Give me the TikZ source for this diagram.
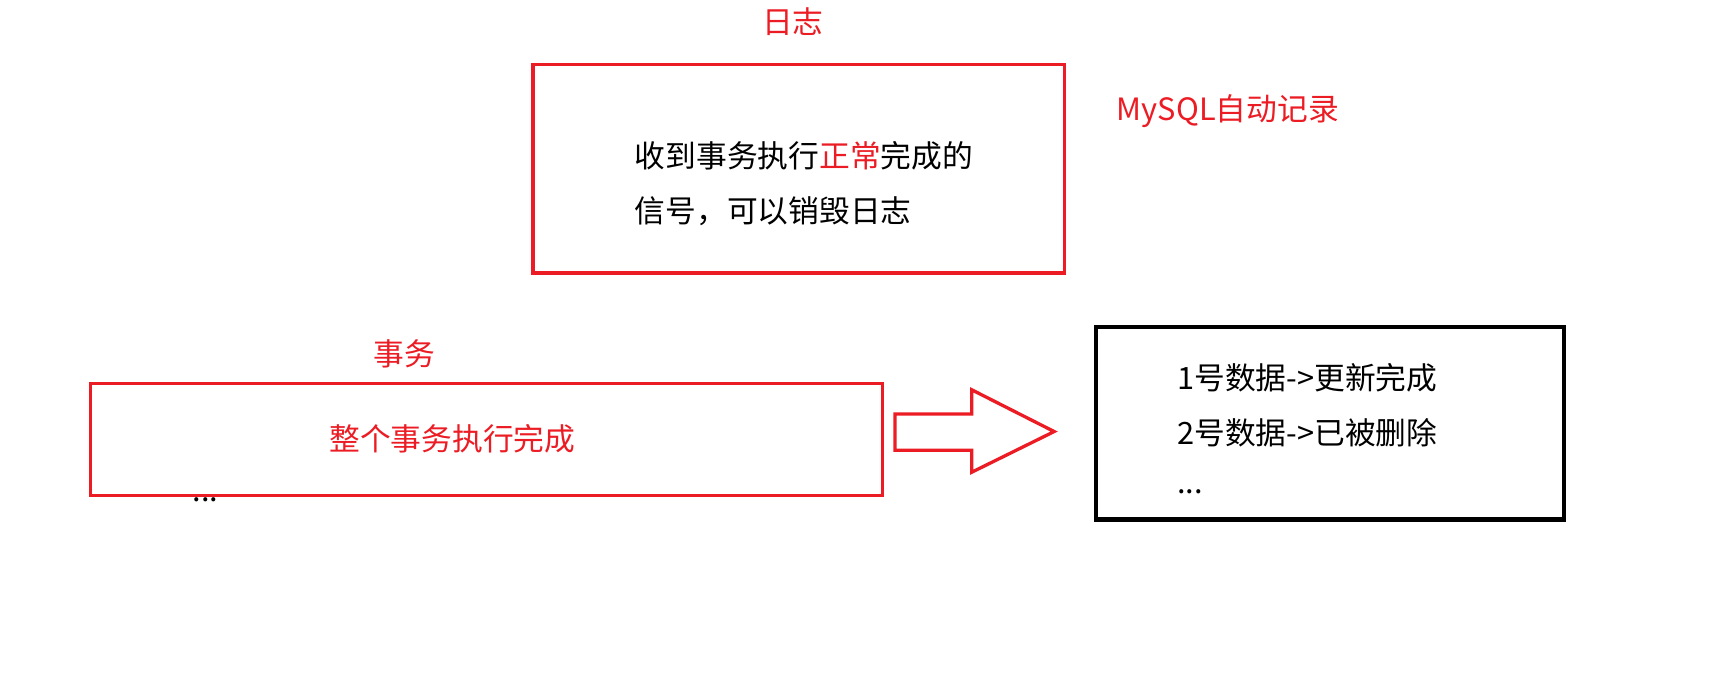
\documentclass[tikz,border=0pt]{standalone}
\usepackage{fontspec}
\newfontfamily\cjk{Noto Sans CJK SC}
\definecolor{myred}{HTML}{EC1C24}
\begin{document}
\begin{tikzpicture}[x=1pt,y=-1pt,
  rbox/.style={draw=myred,line width=3pt},
  bbox/.style={draw=black,line width=4pt},
  txt/.style={font=\cjk\fontsize{28}{32}\selectfont,inner sep=0pt},
  rtxt/.style={txt,text=myred}]
\useasboundingbox (0,0) rectangle (1570,631);
\node[rbox,minimum width=484pt,minimum height=190pt,anchor=north west] (log) at (484,57) {};
\node[rtxt] (logt) at (722,20) {日志};
\node[txt,anchor=west] (l1) at (578,142) {收到事务执行\textcolor{myred}{正常}完成的};
\node[txt,anchor=west] (l2) at (578,192) {信号，可以销毁日志};
\node[rtxt,anchor=west] (my) at (1017,101) {MySQL自动记录};
\node[rbox,minimum width=721pt,minimum height=102pt,anchor=north west] (tx) at (81,348) {};
\node[rtxt] (txt) at (368,322) {事务};
\node[rtxt] (txin) at (412,400) {整个事务执行完成};
\node[txt] (dots1) at (187,455) {...};
\draw[draw=myred,line width=3pt,line join=miter] (815,377) -- (885,377) -- (885,355) -- (960,393) -- (885,430) -- (885,410) -- (815,410) -- cycle;
\node[bbox,minimum width=426pt,minimum height=175pt,anchor=north west] (res) at (996,296) {};
\node[txt,anchor=west] (r1) at (1072,344) {1号数据->更新完成};
\node[txt,anchor=west] (r2) at (1072,394) {2号数据->已被删除};
\node[txt,anchor=west] (r3) at (1072,448) {...};
\end{tikzpicture}
\end{document}
